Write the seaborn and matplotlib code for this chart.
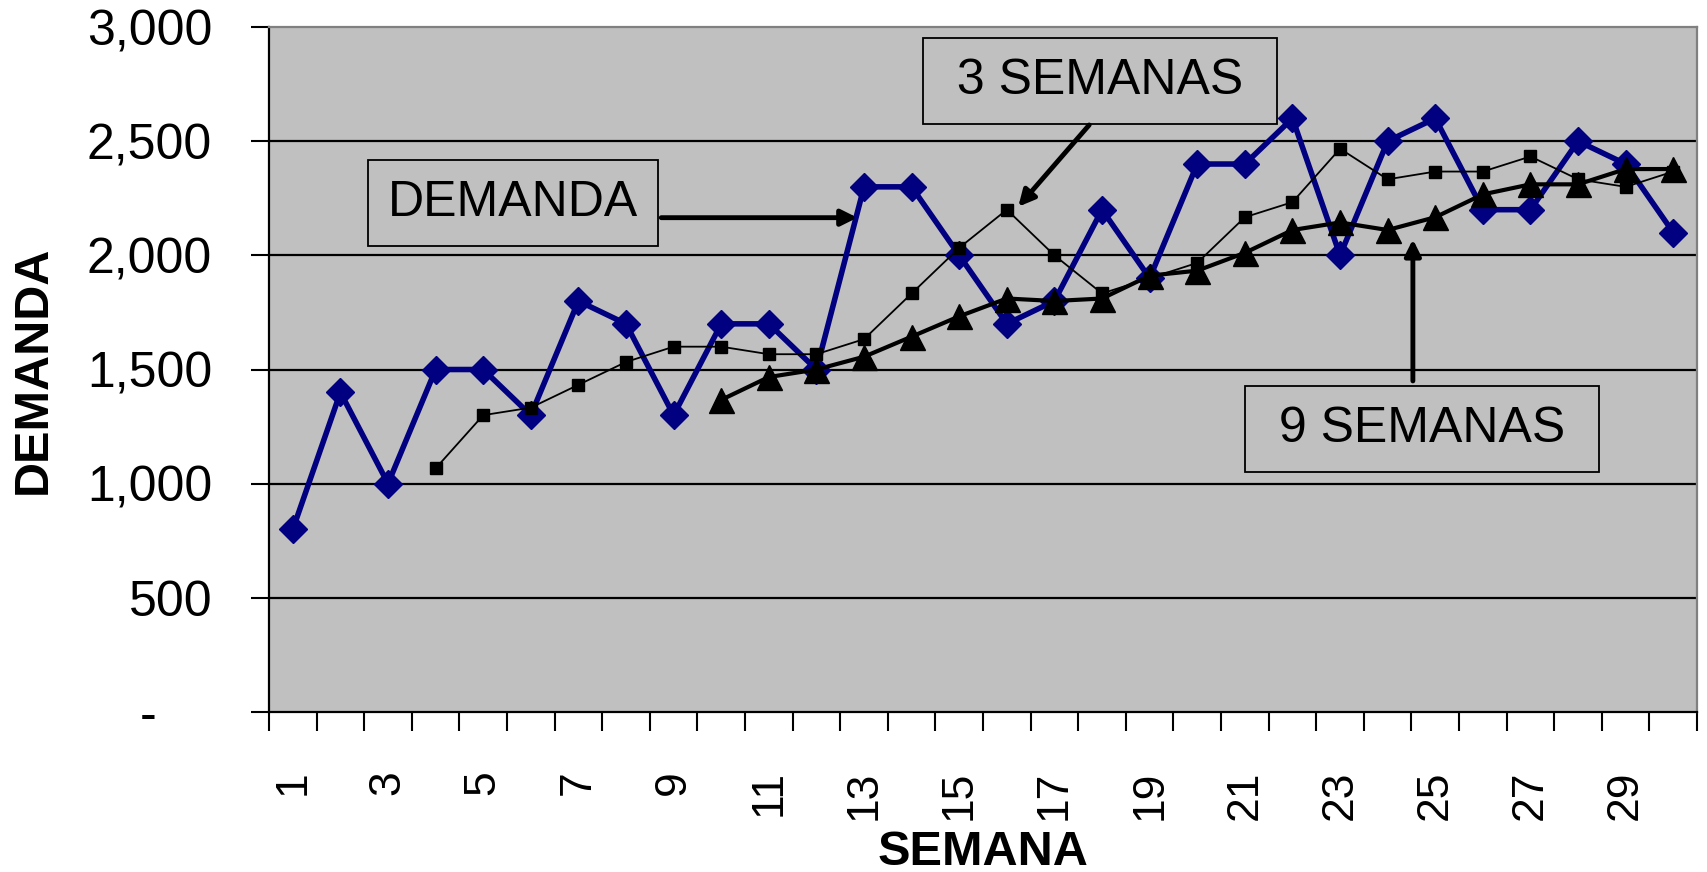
import matplotlib
matplotlib.use("Agg")
import matplotlib.pyplot as plt
import seaborn as sns

# Data
semana = [1, 2, 3, 4, 5, 6, 7, 8, 9, 10, 11, 12, 13, 14, 15,
          16, 17, 18, 19, 20, 21, 22, 23, 24, 25, 26, 27, 28, 29, 30]
demanda = [800, 1400, 1000, 1500, 1500, 1300, 1800, 1700, 1300, 1700,
           1700, 1500, 2300, 2300, 2000, 1700, 1800, 2200, 1900, 2400,
           2400, 2600, 2000, 2500, 2600, 2200, 2200, 2500, 2400, 2100]

semana_3 = [4, 5, 6, 7, 8, 9, 10, 11, 12, 13, 14, 15, 16, 17, 18,
            19, 20, 21, 22, 23, 24, 25, 26, 27, 28, 29, 30]
media_3 = [1067, 1300, 1333, 1433, 1533, 1600, 1600, 1567, 1567, 1633,
           1833, 2033, 2200, 2000, 1833, 1900, 1967, 2167, 2233, 2467,
           2333, 2367, 2367, 2433, 2333, 2300, 2367]

semana_9 = [10, 11, 12, 13, 14, 15, 16, 17, 18, 19, 20, 21, 22, 23, 24,
            25, 26, 27, 28, 29, 30]
media_9 = [1367, 1467, 1500, 1556, 1644, 1733, 1811, 1800, 1811, 1911,
           1933, 2011, 2111, 2144, 2111, 2167, 2267, 2311, 2311, 2378, 2378]

y_ticks = [0, 500, 1000, 1500, 2000, 2500, 3000]
y_labels = ['-    ', '500', '1,000', '1,500', '2,000', '2,500', '3,000']
x_labels = [1, 3, 5, 7, 9, 11, 13, 15, 17, 19, 21, 23, 25, 27, 29]

sns.set_style("white")
plt.rcParams['font.family'] = ['Liberation Sans', 'DejaVu Sans']
plt.rcParams['text.color'] = 'black'
plt.rcParams['axes.labelcolor'] = 'black'
plt.rcParams['xtick.color'] = 'black'
plt.rcParams['ytick.color'] = 'black'

fig, ax = plt.subplots(figsize=(17.08, 8.72), dpi=100)
fig.subplots_adjust(left=0.1575, right=0.9936, top=0.969, bottom=0.1835)
ax.set_facecolor('#C0C0C0')

# series
sns.lineplot(x=semana, y=demanda, ax=ax, color='#000080', linewidth=4,
             marker='D', markersize=14, markeredgecolor='#000080',
             markeredgewidth=1, zorder=3)
sns.lineplot(x=semana_3, y=media_3, ax=ax, color='black', linewidth=1.3,
             marker='s', markersize=8.5, markeredgecolor='black',
             markeredgewidth=1, zorder=4)
sns.lineplot(x=semana_9, y=media_9, ax=ax, color='black', linewidth=3,
             marker='^', markersize=18, markeredgecolor='black',
             markeredgewidth=1, zorder=5)

# axes
ax.set_xlim(0.5, 30.5)
ax.set_ylim(0, 3000)
ax.set_yticks(y_ticks)
ax.set_yticklabels(y_labels)
ax.set_xticks(x_labels)
ax.set_xticklabels([str(v) for v in x_labels], rotation=90)
ax.set_xticks([v + 0.5 for v in range(0, 31)], minor=True)
ax.tick_params(axis='x', which='major', length=0, pad=42, labelsize=32)
ax.tick_params(axis='x', which='minor', length=14, width=1.5, direction='out',
               color='black', bottom=True)
ax.tick_params(axis='y', which='major', length=13, width=1.5, direction='out',
               color='black', left=True, pad=28, labelsize=36)

for y in y_ticks[1:-1]:
    ax.axhline(y, color='black', linewidth=1.6, zorder=1)

for side in ['left', 'bottom']:
    ax.spines[side].set_color('black')
    ax.spines[side].set_linewidth(1.6)
for side in ['top', 'right']:
    ax.spines[side].set_color('#808080')
    ax.spines[side].set_linewidth(1.6)

ax.set_xlabel('SEMANA', fontsize=35, fontweight='bold')
ax.set_ylabel('DEMANDA', fontsize=35, fontweight='bold')
ax.xaxis.set_label_coords(0.5, -0.205)
ax.xaxis.label.set_verticalalignment('center')
ax.yaxis.set_label_coords(-0.165, 0.5)
ax.yaxis.label.set_verticalalignment('center')

# annotation boxes and arrows
box = dict(boxstyle='square,pad=0.4', facecolor='#C0C0C0', edgecolor='black',
           linewidth=1.3)
ax.text(5.63, 2228, 'DEMANDA', fontsize=36, ha='center', va='center',
        bbox=box, zorder=6)
ax.text(17.96, 2762, ' 3 SEMANAS ', fontsize=36, ha='center', va='center',
        bbox=box, zorder=6)
ax.text(24.73, 1240, ' 9 SEMANAS ', fontsize=36, ha='center', va='center',
        bbox=box, zorder=6)

arrow = dict(arrowstyle='-|>', color='black', lw=3.5, mutation_scale=24,
             shrinkA=0, shrinkB=0)
ax.annotate('', xy=(12.86, 2165), xytext=(8.74, 2165), arrowprops=arrow,
            zorder=6)
ax.annotate('', xy=(16.24, 2213), xytext=(17.73, 2571), arrowprops=arrow,
            zorder=6)
ax.annotate('', xy=(24.53, 2070), xytext=(24.53, 1450), arrowprops=arrow,
            zorder=6)

plt.savefig('out.png', dpi=100)
